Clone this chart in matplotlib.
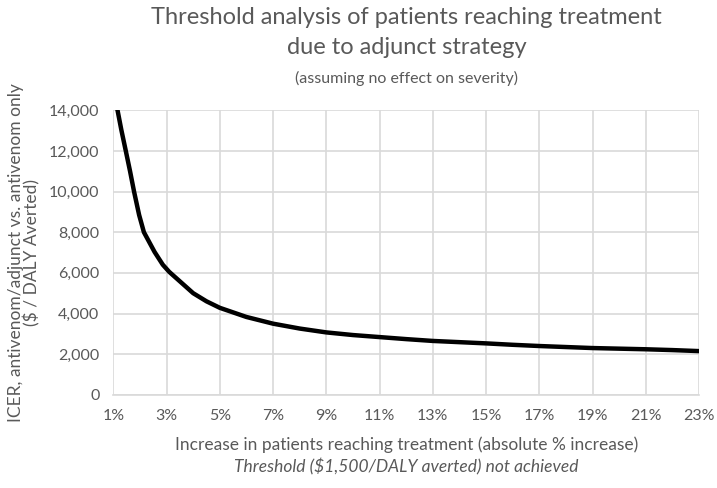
import matplotlib
matplotlib.use("Agg")
import matplotlib.pyplot as plt

plt.rcParams['font.family'] = ['Lato', 'DejaVu Sans']

# absolute % increase in patients reaching treatment vs ICER ($/DALY averted)
pct_increase = [1.0, 1.16, 1.3, 1.47, 1.63, 1.78, 1.97, 2.15, 2.55, 2.86, 3.1,
                3.4, 4, 4.5, 5, 6, 7, 8, 9, 10, 11, 12, 13, 14, 15, 16, 17, 18,
                19, 20, 21, 22, 23]
icer = [15000, 14000, 13050, 12000, 11000, 10000, 8850, 8000, 7030, 6400, 6050,
        5700, 5000, 4600, 4280, 3830, 3500, 3260, 3070, 2940, 2840, 2740, 2650,
        2590, 2530, 2460, 2400, 2350, 2300, 2270, 2240, 2200, 2150]

x_ticks = list(range(1, 24, 2))
y_ticks = list(range(0, 14001, 2000))

grey = '#595959'
grid_col = '#d9d9d9'

fig = plt.figure(figsize=(7.17, 4.88), dpi=100)
ax = fig.add_axes([0.158, 0.191, 0.817, 0.583])

ax.plot(pct_increase, icer, color='black', lw=3.2, solid_capstyle='butt',
        solid_joinstyle='round', zorder=3)

ax.set_xlim(1, 23)
ax.set_ylim(0, 14000)
ax.set_xticks(x_ticks)
ax.set_xticklabels([f'{t}%' for t in x_ticks])
ax.set_yticks(y_ticks)
ax.set_yticklabels([f'{t:,}' for t in y_ticks])
ax.grid(True, color=grid_col, lw=1.2)
ax.set_axisbelow(True)
for s in ['top', 'right', 'left']:
    ax.spines[s].set_visible(False)
ax.spines['bottom'].set_color(grid_col)
ax.spines['bottom'].set_linewidth(1.2)
ax.tick_params(length=0, labelsize=11.5, colors=grey, pad=10)

ax.set_xlabel('Increase in patients reaching treatment (absolute % increase)',
              fontsize=12.5, color=grey, labelpad=10)
ax.set_ylabel('ICER, antivenom/adjunct vs. antivenom only\n($ / DALY Averted)',
              fontsize=12.5, color=grey, linespacing=1.0, labelpad=6)

fig.text(0.567, 0.965, 'Threshold analysis of patients reaching treatment',
         ha='center', va='center', fontsize=17, color=grey)
fig.text(0.567, 0.903, 'due to adjunct strategy',
         ha='center', va='center', fontsize=17, color=grey)
fig.text(0.567, 0.84, '(assuming no effect on severity)',
         ha='center', va='center', fontsize=11.5, color=grey)
fig.text(0.567, 0.043, 'Threshold ($1,500/DALY averted) not achieved',
         ha='center', va='center', fontsize=12.5, color=grey, style='italic')

plt.savefig('out.png', dpi=100)
